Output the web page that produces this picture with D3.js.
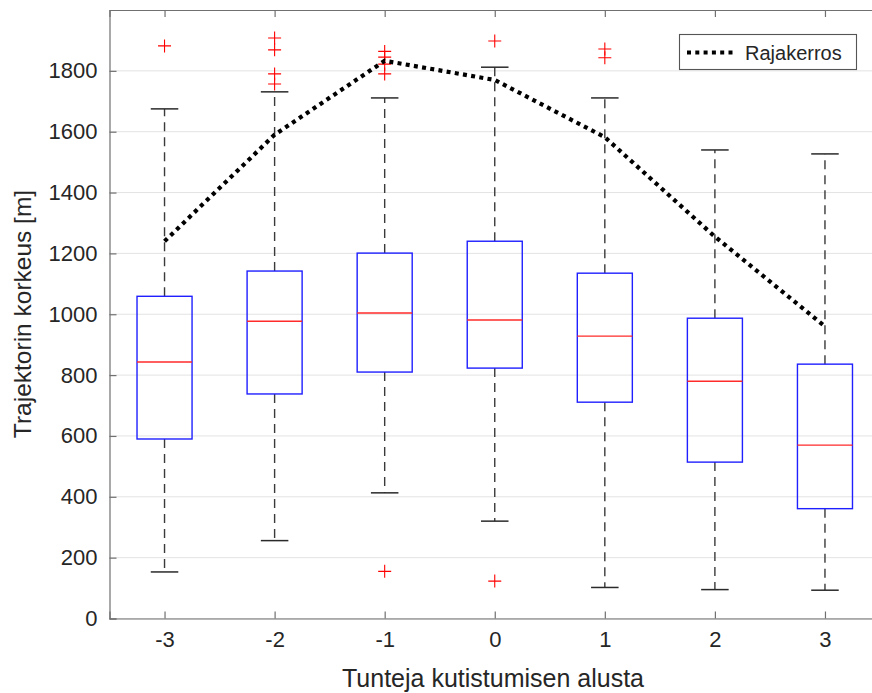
<!DOCTYPE html>
<html>
<head>
<meta charset="utf-8">
<script src="https://cdn.jsdelivr.net/npm/d3@7"></script>
<style>
  html, body { margin: 0; padding: 0; background: #fff; }
  svg { display: block; }
  text { font-family: "Liberation Sans", Arial, Helvetica, sans-serif; fill: #262626; }
</style>
</head>
<body>
<svg id="chart" width="872" height="693"></svg>
<script>
// Hours from the start of shrinking
const categories = [-3, -2, -1, 0, 1, 2, 3];

// Box statistics per hour (m)
const whiskerLow  = [153, 256, 413, 320, 102, 95, 93];
const q1          = [590, 738, 810, 823, 711, 514, 361];
const medians     = [843, 977, 1004, 981, 928, 780, 570];
const q3          = [1059, 1142, 1201, 1240, 1135, 987, 836];
const whiskerHigh = [1675, 1731, 1711, 1812, 1711, 1540, 1527];

// Outliers per hour (m)
const outliers = [
  [1882],
  [1757, 1790, 1869, 1908],
  [155, 1790, 1822, 1845, 1864],
  [123, 1898],
  [1843, 1872],
  [],
  []
];

// Boundary layer height (m)
const rajakerros = [1240, 1590, 1833, 1770, 1582, 1255, 960];

const yTicks = [0, 200, 400, 600, 800, 1000, 1200, 1400, 1600, 1800];

const svg = d3.select("#chart");
const plotLeft = 109.5, plotRight = 880, plotTop = 10, plotBottom = 618.5;

const x = d3.scaleLinear().domain([0.5, 7.5]).range([plotLeft, plotRight]);
const y = d3.scaleLinear().domain([0, 2000]).range([plotBottom, plotTop]);
const xi = i => x(i + 1);

const axisColor = "#707070";

// horizontal grid
svg.append("g").selectAll("line").data(yTicks).join("line")
  .attr("x1", plotLeft).attr("x2", plotRight)
  .attr("y1", d => y(d)).attr("y2", d => y(d))
  .attr("stroke", "#e3e3e3").attr("stroke-width", 1);

function styleAxis(g) {
  g.select(".domain").attr("stroke", axisColor).attr("stroke-width", 1.2);
  g.selectAll(".tick line").attr("stroke", axisColor).attr("stroke-width", 1.2);
  g.selectAll(".tick text").attr("font-size", 22).attr("fill", "#262626")
    .style("font-family", '"Liberation Sans", Arial, sans-serif');
}

const catPos = categories.map((c, i) => i + 1);

svg.append("g").attr("transform", `translate(${plotLeft},0)`)
  .call(d3.axisLeft(y).tickValues(yTicks).tickSize(-7).tickPadding(12).tickFormat(d3.format("d")))
  .call(styleAxis);

svg.append("g").attr("transform", `translate(0,${plotBottom})`)
  .call(d3.axisBottom(x).tickValues(catPos).tickSize(-7).tickPadding(13).tickFormat((d, i) => categories[i]))
  .call(styleAxis);

svg.append("g").attr("transform", `translate(0,${plotTop})`)
  .call(d3.axisTop(x).tickValues(catPos).tickSize(-7).tickFormat(""))
  .call(styleAxis);

svg.append("g").attr("transform", `translate(${plotRight},0)`)
  .call(d3.axisRight(y).tickValues(yTicks).tickSize(-7).tickFormat(""))
  .call(styleAxis);

// boxes
const boxHalf = 0.25, capHalf = 0.125;
const g = svg.append("g");
categories.forEach((c, i) => {
  const cx = xi(i);
  // whiskers
  [[q3[i], whiskerHigh[i]], [q1[i], whiskerLow[i]]].forEach(([a, b]) => {
    g.append("line").attr("x1", cx).attr("x2", cx)
      .attr("y1", y(a)).attr("y2", y(b))
      .attr("stroke", "#3a3a3a").attr("stroke-width", 1.4).attr("stroke-dasharray", "9,6");
  });
  // caps
  [whiskerHigh[i], whiskerLow[i]].forEach(v => {
    g.append("line")
      .attr("x1", x(i + 1 - capHalf)).attr("x2", x(i + 1 + capHalf))
      .attr("y1", y(v)).attr("y2", y(v))
      .attr("stroke", "#2a2a2a").attr("stroke-width", 1.5);
  });
  // box
  g.append("rect")
    .attr("x", x(i + 1 - boxHalf)).attr("width", x(i + 1 + boxHalf) - x(i + 1 - boxHalf))
    .attr("y", y(q3[i])).attr("height", y(q1[i]) - y(q3[i]))
    .attr("fill", "none").attr("stroke", "#1f1fff").attr("stroke-width", 1.4);
  // median
  g.append("line")
    .attr("x1", x(i + 1 - boxHalf)).attr("x2", x(i + 1 + boxHalf))
    .attr("y1", y(medians[i])).attr("y2", y(medians[i]))
    .attr("stroke", "#ff2a2a").attr("stroke-width", 1.4);
  // outliers
  outliers[i].forEach(v => {
    const oy = y(v);
    g.append("path")
      .attr("d", `M${cx - 6.5},${oy}H${cx + 6.5}M${cx},${oy - 6.5}V${oy + 6.5}`)
      .attr("stroke", "#ff0000").attr("stroke-width", 1.1).attr("fill", "none");
  });
});

// boundary layer line
const line = d3.line().x((d, i) => xi(i)).y(d => y(d));
svg.append("path").datum(rajakerros)
  .attr("d", line)
  .attr("fill", "none").attr("stroke", "#000")
  .attr("stroke-width", 4.2).attr("stroke-dasharray", "4,4.3");

// legend
const lg = svg.append("g");
lg.append("rect").attr("x", 679.5).attr("y", 34.5).attr("width", 177).attr("height", 35)
  .attr("fill", "#fff").attr("stroke", "#555").attr("stroke-width", 1.1);
lg.append("line").attr("x1", 687).attr("x2", 735).attr("y1", 52.5).attr("y2", 52.5)
  .attr("stroke", "#000").attr("stroke-width", 4.2).attr("stroke-dasharray", "4,4.3");
lg.append("text").attr("x", 745).attr("y", 60).attr("font-size", 20).text("Rajakerros");

// axis titles
svg.append("text").attr("x", 493).attr("y", 687)
  .attr("text-anchor", "middle").attr("font-size", 25).text("Tunteja kutistumisen alusta");
svg.append("text").attr("transform", "translate(31,314) rotate(-90)")
  .attr("text-anchor", "middle").attr("font-size", 24.5).text("Trajektorin korkeus [m]");
</script>
</body>
</html>
